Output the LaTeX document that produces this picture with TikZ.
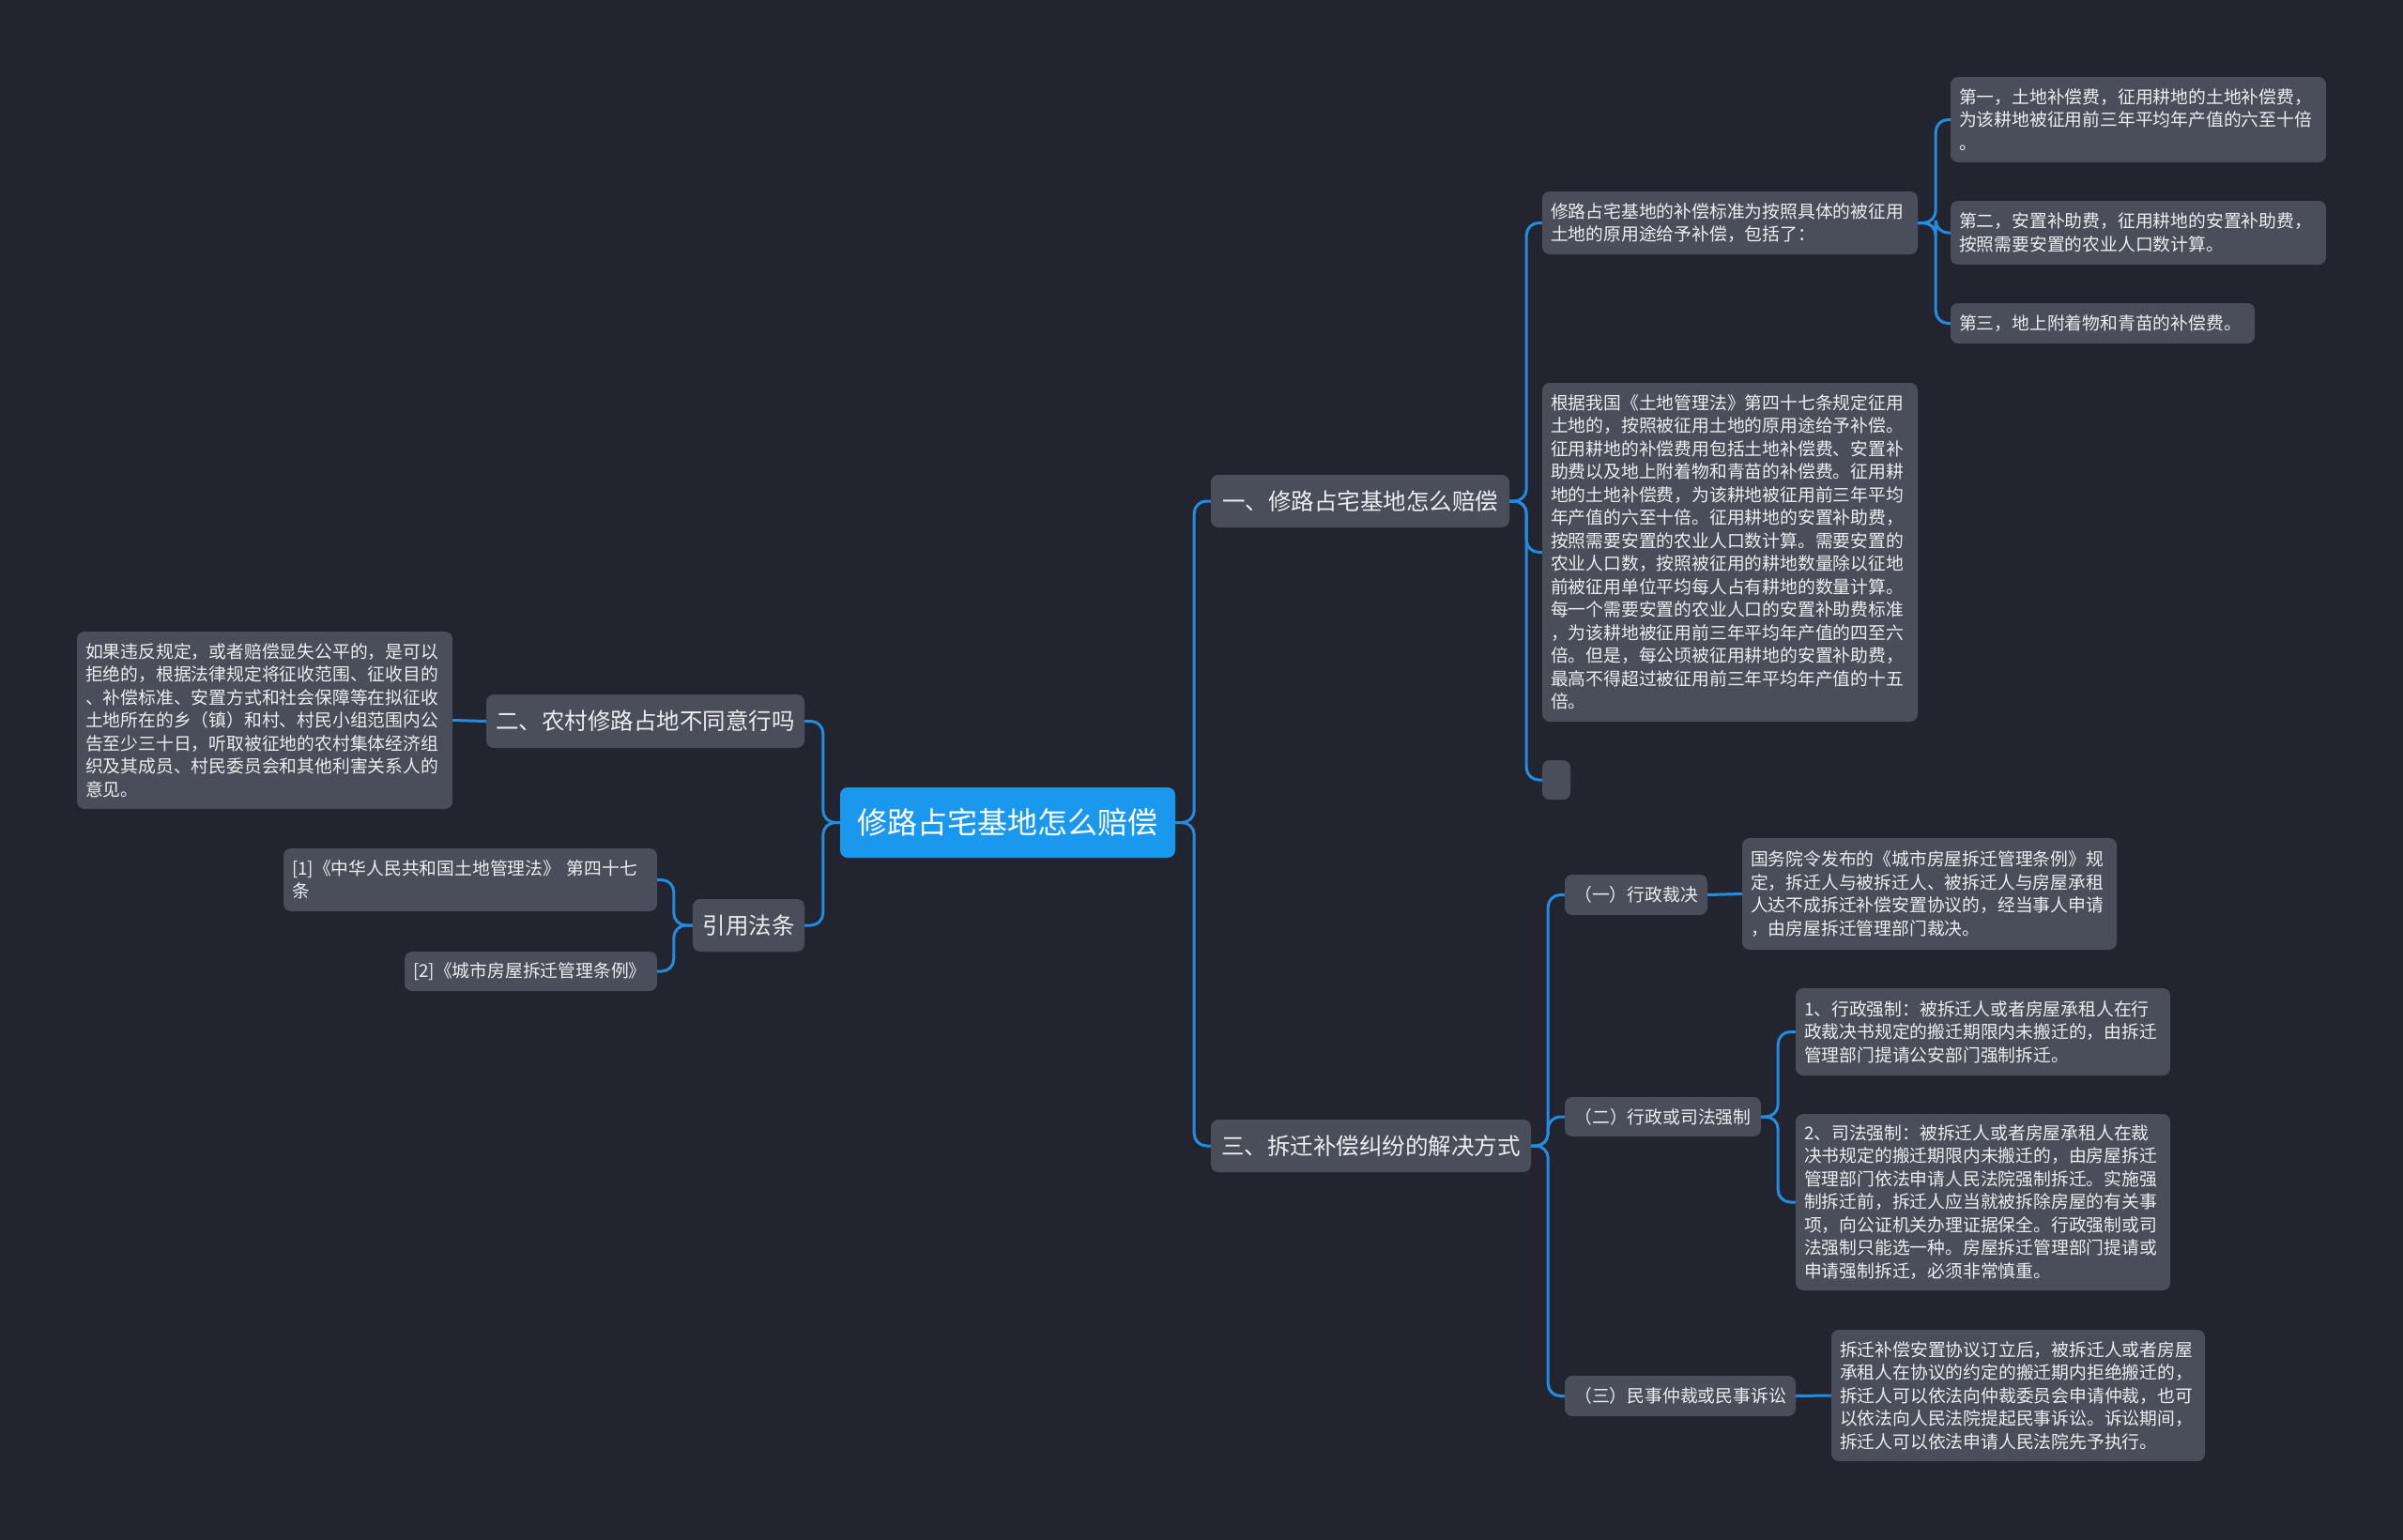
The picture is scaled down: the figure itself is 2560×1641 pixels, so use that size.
\documentclass[tikz,border=0pt]{standalone}
\usepackage{fontspec}
\setmainfont{Noto Sans CJK SC}
\definecolor{bg}{RGB}{34,37,48}
\definecolor{nodegray}{RGB}{74,78,90}
\definecolor{rootblue}{RGB}{26,152,238}
\definecolor{linkblue}{RGB}{36,140,222}
\definecolor{txt}{RGB}{236,237,240}
\newcommand\fbody{\fontsize{18.8}{24.5}\selectfont}
\newcommand\fmain{\fontsize{24.5}{28}\selectfont}
\newcommand\froot{\fontsize{32}{36}\selectfont}
\tikzset{
  box/.style={fill=nodegray, rounded corners=8, text=txt, inner sep=0},
  body/.style={box, font=\fbody, align=left, inner xsep=9, inner ysep=0},
  lvlone/.style={box, font=\fmain, align=center},
  lvltwo/.style={box, font=\fbody, align=center},
  rootbox/.style={fill=rootblue, rounded corners=8, text=white, font=\froot, align=center, inner sep=0},
  conn/.style={draw=linkblue, line width=3, rounded corners=13},
}
\begin{document}
\begin{tikzpicture}[x=1pt,y=-1pt]
\useasboundingbox (0,0) rectangle (2560,1641);
\fill[bg] (0,0) rectangle (2560,1641);

% root
\node[rootbox, minimum width=357, minimum height=75] (root) at (1073.5,876.5) {修路占宅基地怎么赔偿};

% level one
\node[lvlone, minimum width=318, minimum height=56] (n1) at (1449,534) {一、修路占宅基地怎么赔偿};
\node[lvlone, minimum width=341, minimum height=56] (n3) at (1460.5,1221) {三、拆迁补偿纠纷的解决方式};
\node[lvlone, minimum width=339, minimum height=57] (n2) at (687.5,768.5) {二、农村修路占地不同意行吗};
\node[lvlone, minimum width=119, minimum height=56] (nref) at (797.5,986) {引用法条};

% left side
\node[body, text width=382, minimum height=189] (left) at (282,767.5) {如果违反规定，或者赔偿显失公平的，是可以\\拒绝的，根据法律规定将征收范围、征收目的\\、补偿标准、安置方式和社会保障等在拟征收\\土地所在的乡（镇）和村、村民小组范围内公\\告至少三十日，听取被征地的农村集体经济组\\织及其成员、村民委员会和其他利害关系人的\\意见。};
\node[body, text width=380, minimum height=67] (ref1) at (501,937.5) {[1]《中华人民共和国土地管理法》 第四十七\\条};
\node[body, text width=251, minimum height=42] (ref2) at (565.5,1035) {[2]《城市房屋拆迁管理条例》};

% branch one
\node[body, text width=382, minimum height=67] (a1) at (1843,237.5) {修路占宅基地的补偿标准为按照具体的被征用\\土地的原用途给予补偿，包括了：};
\node[body, text width=382, minimum height=91] (a11) at (2278,127.5) {第一，土地补偿费，征用耕地的土地补偿费，\\为该耕地被征用前三年平均年产值的六至十倍\\。};
\node[body, text width=382, minimum height=68] (a12) at (2278,248) {第二，安置补助费，征用耕地的安置补助费，\\按照需要安置的农业人口数计算。};
\node[body, text width=306, minimum height=43] (a13) at (2240,344.5) {第三，地上附着物和青苗的补偿费。};
\node[body, text width=382, minimum height=361] (a2) at (1843,588.5) {根据我国《土地管理法》第四十七条规定征用\\土地的，按照被征用土地的原用途给予补偿。\\征用耕地的补偿费用包括土地补偿费、安置补\\助费以及地上附着物和青苗的补偿费。征用耕\\地的土地补偿费，为该耕地被征用前三年平均\\年产值的六至十倍。征用耕地的安置补助费，\\按照需要安置的农业人口数计算。需要安置的\\农业人口数，按照被征用的耕地数量除以征地\\前被征用单位平均每人占有耕地的数量计算。\\每一个需要安置的农业人口的安置补助费标准\\，为该耕地被征用前三年平均年产值的四至六\\倍。但是，每公顷被征用耕地的安置补助费，\\最高不得超过被征用前三年平均年产值的十五\\倍。};
\node[box, minimum width=30, minimum height=42] (a3) at (1658,831) {};

% branch three
\node[lvltwo, minimum width=152, minimum height=43] (b1) at (1743,953.5) {（一）行政裁决};
\node[body, text width=381, minimum height=119] (b11) at (2055.5,952.5) {国务院令发布的《城市房屋拆迁管理条例》规\\定，拆迁人与被拆迁人、被拆迁人与房屋承租\\人达不成拆迁补偿安置协议的，经当事人申请\\，由房屋拆迁管理部门裁决。};
\node[lvltwo, minimum width=209, minimum height=42] (b2) at (1771.5,1190) {（二）行政或司法强制};
\node[body, text width=381, minimum height=93] (b21) at (2112.5,1099.5) {1、行政强制：被拆迁人或者房屋承租人在行\\政裁决书规定的搬迁期限内未搬迁的，由拆迁\\管理部门提请公安部门强制拆迁。};
\node[body, text width=381, minimum height=188] (b22) at (2112.5,1281) {2、司法强制：被拆迁人或者房屋承租人在裁\\决书规定的搬迁期限内未搬迁的，由房屋拆迁\\管理部门依法申请人民法院强制拆迁。实施强\\制拆迁前，拆迁人应当就被拆除房屋的有关事\\项，向公证机关办理证据保全。行政强制或司\\法强制只能选一种。房屋拆迁管理部门提请或\\申请强制拆迁，必须非常慎重。};
\node[lvltwo, minimum width=246, minimum height=43] (b3) at (1790,1487.5) {（三）民事仲裁或民事诉讼};
\node[body, text width=380, minimum height=140] (b31) at (2150,1487) {拆迁补偿安置协议订立后，被拆迁人或者房屋\\承租人在协议的约定的搬迁期内拒绝搬迁的，\\拆迁人可以依法向仲裁委员会申请仲裁，也可\\以依法向人民法院提起民事诉讼。诉讼期间，\\拆迁人可以依法申请人民法院先予执行。};

% connectors
\begin{scope}[on background layer/.style={}]
\draw[conn] (root.east) -- ++(20,0) |- (n1.west);
\draw[conn] (root.east) -- ++(20,0) |- (n3.west);
\draw[conn] (root.west) -- ++(-18,0) |- (n2.east);
\draw[conn] (root.west) -- ++(-18,0) |- (nref.east);
\draw[conn] (n2.west) -- (left.east);
\draw[conn] (nref.west) -- ++(-20,0) |- (ref1.east);
\draw[conn] (nref.west) -- ++(-20,0) |- (ref2.east);
\draw[conn] (n1.east) -- ++(18,0) |- (a1.west);
\draw[conn] (n1.east) -- ++(18,0) |- (a2.west);
\draw[conn] (n1.east) -- ++(18,0) |- (a3.west);
\draw[conn] (a1.east) -- ++(19,0) |- (a11.west);
\draw[conn] (a1.east) -- ++(19,0) |- (a12.west);
\draw[conn] (a1.east) -- ++(19,0) |- (a13.west);
\draw[conn] (n3.east) -- ++(18,0) |- (b1.west);
\draw[conn] (n3.east) -- ++(18,0) |- (b2.west);
\draw[conn] (n3.east) -- ++(18,0) |- (b3.west);
\draw[conn] (b1.east) -- (b11.west);
\draw[conn] (b2.east) -- ++(18,0) |- (b21.west);
\draw[conn] (b2.east) -- ++(18,0) |- (b22.west);
\draw[conn] (b3.east) -- (b31.west);
\end{scope}
\end{tikzpicture}
\end{document}
